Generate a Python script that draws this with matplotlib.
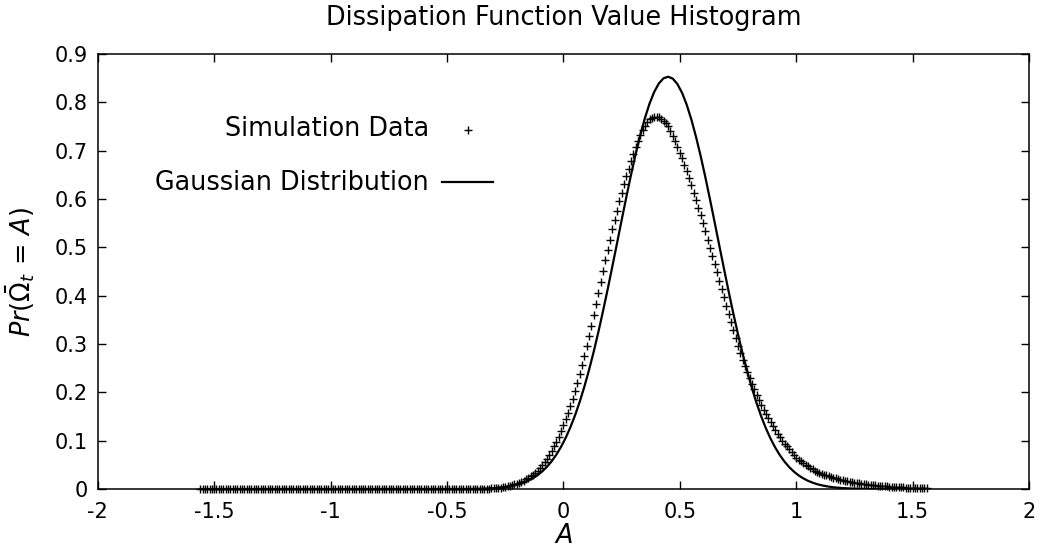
import numpy as np
import matplotlib
matplotlib.use("Agg")
import matplotlib.pyplot as plt
from matplotlib.ticker import FuncFormatter

plt.rcParams['font.family'] = ['DejaVu Sans']
plt.rcParams['axes.unicode_minus'] = False

# simulation histogram, one point every 0.01 from -1.56 to 1.56
sim_a = np.round(np.linspace(-1.56, 1.56, 313), 2)
sim_p = [0.0] * 111 + [  # -1.56 .. -0.46 are flat zero
    0.0, 0.0, 0.0001, 0.0001, 0.0001, 0.0001, 0.0002, 0.0002, 0.0003, 0.0004,   # -0.45
    0.0005, 0.0006, 0.0008, 0.0010, 0.0013, 0.0016, 0.0020, 0.0025, 0.0031, 0.0038,  # -0.35
    0.0046, 0.0056, 0.0067, 0.0080, 0.0095, 0.0112, 0.0131, 0.0152, 0.0175, 0.0200,  # -0.25
    0.023, 0.026, 0.029, 0.033, 0.038, 0.043, 0.049, 0.055, 0.062, 0.070,   # -0.15
    0.078, 0.088, 0.097, 0.108, 0.120, 0.132, 0.145, 0.158, 0.172, 0.187,   # -0.05
    0.203, 0.220, 0.238, 0.256, 0.275, 0.295, 0.316, 0.338, 0.360, 0.383,   # 0.05
    0.405, 0.428, 0.451, 0.473, 0.495, 0.516, 0.537, 0.557, 0.576, 0.595,   # 0.15
    0.613, 0.630, 0.647, 0.663, 0.678, 0.693, 0.707, 0.720, 0.732, 0.743,   # 0.25
    0.752, 0.759, 0.765, 0.768, 0.770, 0.770, 0.769, 0.766, 0.762, 0.757,   # 0.35
    0.750, 0.741, 0.731, 0.720, 0.708, 0.696, 0.684, 0.671, 0.657, 0.643,   # 0.45
    0.628, 0.613, 0.598, 0.582, 0.566, 0.550, 0.533, 0.516, 0.499, 0.482,   # 0.55
    0.465, 0.448, 0.431, 0.414, 0.397, 0.379, 0.362, 0.345, 0.328, 0.312,   # 0.65
    0.296, 0.281, 0.267, 0.254, 0.242, 0.230, 0.218, 0.206, 0.195, 0.184,   # 0.75
    0.174, 0.164, 0.155, 0.146, 0.138, 0.130, 0.122, 0.114, 0.107, 0.100,   # 0.85
    0.094, 0.088, 0.082, 0.076, 0.070, 0.065, 0.061, 0.057, 0.053, 0.050,   # 0.95
    0.047, 0.044, 0.041, 0.038, 0.036, 0.034, 0.032, 0.030, 0.028, 0.026,   # 1.05
    0.025, 0.023, 0.022, 0.021, 0.019, 0.018, 0.017, 0.016, 0.015, 0.014,   # 1.15
    0.013, 0.012, 0.0115, 0.011, 0.010, 0.0095, 0.009, 0.0085, 0.008, 0.0075,  # 1.25
    0.0070, 0.0066, 0.0062, 0.0058, 0.0054, 0.0050, 0.0047, 0.0044, 0.0041, 0.0038,  # 1.35
    0.0035, 0.0032, 0.0030, 0.0028, 0.0026, 0.0024, 0.0022, 0.0020, 0.0018, 0.0016,  # 1.45
    0.0015, 0.0014,  # 1.55
]

# gaussian curve
gauss_a = ([-1.56, -0.45, -0.40, -0.35, -0.30]
           + list(np.round(np.arange(-0.25, 1.18, 0.02), 2))
           + [1.20, 1.25, 1.30, 1.35, 1.40, 1.56])
gauss_p = [0.0, 0.0001, 0.0002, 0.0007, 0.0018,
           0.0043, 0.0058, 0.0078, 0.0103, 0.0135, 0.0176, 0.0227, 0.0290, 0.0368, 0.0463,
           0.0577, 0.0713, 0.0873, 0.1060, 0.1277, 0.1524, 0.1803, 0.2116, 0.2461, 0.2837,
           0.3243, 0.3676, 0.4128, 0.4598, 0.5076, 0.5558, 0.6032, 0.6489, 0.6921, 0.7319,
           0.7672, 0.7973, 0.8214, 0.8391, 0.8497, 0.8530, 0.8489, 0.8376, 0.8194, 0.7946,
           0.7638, 0.7280, 0.6880, 0.6445, 0.5985, 0.5510, 0.5029, 0.4552, 0.4083, 0.3631,
           0.3201, 0.2799, 0.2425, 0.2084, 0.1774, 0.1498, 0.1254, 0.1041, 0.0857, 0.0699,
           0.0565, 0.0453, 0.0360, 0.0283, 0.0222, 0.0171, 0.0132, 0.0100, 0.0076, 0.0057,
           0.0042, 0.0031,
           0.0019, 0.0008, 0.0003, 0.0001, 0.0, 0.0]

x_ticks = [-2, -1.5, -1, -0.5, 0, 0.5, 1, 1.5, 2]
y_ticks = [0, 0.1, 0.2, 0.3, 0.4, 0.5, 0.6, 0.7, 0.8, 0.9]

fig = plt.figure(figsize=(10.41, 5.52), dpi=100)
ax = fig.add_axes([0.0939, 0.1141, 0.8946, 0.7881])

ax.plot(sim_a, sim_p, linestyle='none', marker='+', ms=5.5, mew=1.0,
        color='black', clip_on=False)
ax.plot(gauss_a, gauss_p, color='black', lw=1.6)

ax.set_xlim(-2, 2)
ax.set_ylim(0, 0.9)
ax.set_xticks(x_ticks)
ax.set_yticks(y_ticks)
fmt = FuncFormatter(lambda v, pos: f'{v:g}')
ax.xaxis.set_major_formatter(fmt)
ax.yaxis.set_major_formatter(fmt)
ax.tick_params(direction='in', length=6, width=1, top=True, right=True,
               labelsize=15, colors='black')
ax.tick_params(axis='x', pad=9)
ax.tick_params(axis='y', pad=7)
for s in ax.spines.values():
    s.set_linewidth(1.1)

ax.set_title('Dissipation Function Value Histogram', fontsize=18.4, pad=21)
ax.set_xlabel(r'$A$', fontsize=18.4, labelpad=1)
ax.set_ylabel(r'$Pr(\bar{\Omega}_t\,=\,A)$', fontsize=18.4, labelpad=13)

# gnuplot style key: right justified text, sample on the right
ax.text(0.3558, 0.8276, 'Simulation Data', transform=ax.transAxes,
        ha='right', va='center', fontsize=18.4)
ax.plot([0.3976], [0.8253], transform=ax.transAxes, marker='+', ms=5.5,
        mew=1.0, color='black', linestyle='none')
ax.text(0.3558, 0.7034, 'Gaussian Distribution', transform=ax.transAxes,
        ha='right', va='center', fontsize=18.4)
ax.plot([0.3694, 0.4248], [0.7064, 0.7064], transform=ax.transAxes,
        color='black', lw=1.6)

fig.savefig('out.png', dpi=100)
